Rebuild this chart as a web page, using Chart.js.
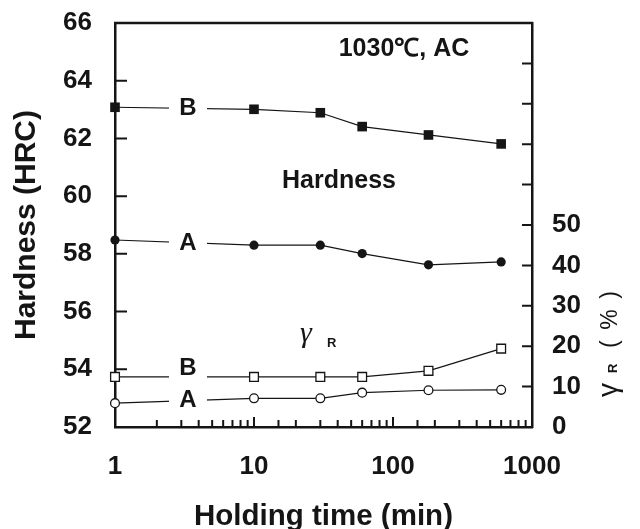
<!DOCTYPE html>
<html>
<head>
<meta charset="utf-8">
<script src="https://cdn.jsdelivr.net/npm/chart.js@4"></script>
<style>
  html, body { margin: 0; padding: 0; background: #fff; }
</style>
</head>
<body>
<canvas id="hardness-canvas" width="640" height="529"></canvas>
<script>
// valores
const holdingTime = [1, 10, 30, 60, 180, 600];
const hardnessA = [58.48, 58.30, 58.30, 58.01, 57.62, 57.72];
const hardnessB = [63.08, 63.01, 62.89, 62.41, 62.12, 61.81];
const retainedA = [5.9, 7.1, 7.1, 8.5, 9.1, 9.2];
const retainedB = [12.4, 12.4, 12.4, 12.4, 13.9, 19.4];
const timeTickLabels = [1, 10, 100, 1000];
const retainedTickMax = 50;

const ink = '#151515';
const fontFamily = "'Liberation Sans', Arial, sans-serif";

function points(values) {
    return holdingTime.map((t, i) => ({ x: t, y: values[i] }));
}

// etiquetas A / B sobre las lineas
const seriesLabels = [
    { dataset: 0, text: 'B', dy: 0 },
    { dataset: 1, text: 'A', dy: 1 },
    { dataset: 2, text: 'B', dy: -9 },
    { dataset: 3, text: 'A', dy: 0 }
];

function noOverflow(s) {
    s.paddingTop = 0;
    s.paddingBottom = 0;
    s.paddingLeft = 0;
    s.paddingRight = 0;
}

const insideTicks = {
    id: 'insideTicks',
    afterDraw(chart) {
        const { ctx, chartArea: a, scales: { x, y, y2 } } = chart;
        ctx.save();
        ctx.strokeStyle = ink;
        ctx.lineWidth = 2;
        ctx.beginPath();
        y.ticks.forEach(t => {
            const p = y.getPixelForValue(t.value);
            ctx.moveTo(a.left, p); ctx.lineTo(a.left + 12, p);
        });
        y2.ticks.forEach(t => {
            const p = y2.getPixelForValue(t.value);
            ctx.moveTo(a.right, p); ctx.lineTo(a.right - 10, p);
        });
        x.ticks.forEach(t => {
            const p = x.getPixelForValue(t.value);
            const lg = Math.log10(t.value);
            const len = Math.abs(lg - Math.round(lg)) < 1e-6 ? 10 : 7;
            ctx.moveTo(p, a.bottom); ctx.lineTo(p, a.bottom - len);
        });
        ctx.stroke();
        ctx.lineWidth = 2.5;
        ctx.beginPath();
        ctx.moveTo(a.left - 1, a.top); ctx.lineTo(a.right + 1, a.top);
        ctx.stroke();

        // titulo del eje derecho
        ctx.translate(617, 397);
        ctx.rotate(-Math.PI / 2);
        ctx.fillStyle = ink;
        ctx.textBaseline = 'alphabetic';
        ctx.textAlign = 'left';
        ctx.font = '28px ' + fontFamily;
        ctx.fillText('γ', 0, 0);
        ctx.font = 'bold 13px ' + fontFamily;
        ctx.fillText('R', 24, 0);
        ctx.font = '23px ' + fontFamily;
        ctx.fillText('(', 49, 0);
        ctx.textAlign = 'center';
        ctx.fillText('%', 77.5, 0);
        ctx.textAlign = 'right';
        ctx.fillText(')', 106, 0);
        ctx.restore();
    }
};

const lineLabels = {
    id: 'lineLabels',
    afterDatasetsDraw(chart) {
        const { ctx, scales: { x } } = chart;
        ctx.save();
        const px = x.getPixelForValue(3.35);
        seriesLabels.forEach(l => {
            const pts = chart.getDatasetMeta(l.dataset).data;
            const p0 = pts[0], p1 = pts[1];
            const py = p0.y + (p1.y - p0.y) * (px - p0.x) / (p1.x - p0.x);
            ctx.fillStyle = '#fff';
            ctx.fillRect(px - 19, py - 4, 38, 8);
            ctx.fillStyle = ink;
            ctx.font = 'bold 24px ' + fontFamily;
            ctx.textAlign = 'center';
            ctx.textBaseline = 'middle';
            ctx.fillText(l.text, px, py + l.dy);
        });

        ctx.font = 'bold 25px ' + fontFamily;
        ctx.fillText('1030℃, AC', 404, 49);
        ctx.fillText('Hardness', 339, 181);

        ctx.textAlign = 'left';
        ctx.textBaseline = 'alphabetic';
        ctx.font = 'italic 30px "Liberation Serif", serif';
        ctx.fillText('γ', 300, 342);
        ctx.font = 'bold 13px ' + fontFamily;
        ctx.fillText('R', 327, 347);
        ctx.restore();
    }
};

const ctx = document.getElementById('hardness-canvas').getContext('2d');

const chart = new Chart(ctx, {
    type: 'line',
    data: {
        datasets: [{
            label: 'Hardness B',
            data: points(hardnessB),
            yAxisID: 'y',
            borderColor: ink,
            borderWidth: 1.2,
            pointStyle: 'rect',
            pointRadius: 6.8,
            pointBackgroundColor: ink,
            pointBorderColor: ink,
            pointBorderWidth: 0
        }, {
            label: 'Hardness A',
            data: points(hardnessA),
            yAxisID: 'y',
            borderColor: ink,
            borderWidth: 1.2,
            pointStyle: 'circle',
            pointRadius: 4.6,
            pointBackgroundColor: ink,
            pointBorderColor: ink,
            pointBorderWidth: 0
        }, {
            label: 'γR B',
            data: points(retainedB),
            yAxisID: 'y2',
            borderColor: ink,
            borderWidth: 1.2,
            pointStyle: 'rect',
            pointRadius: 6.2,
            pointBackgroundColor: '#fff',
            pointBorderColor: ink,
            pointBorderWidth: 1.3
        }, {
            label: 'γR A',
            data: points(retainedA),
            yAxisID: 'y2',
            borderColor: ink,
            borderWidth: 1.2,
            pointStyle: 'circle',
            pointRadius: 4.4,
            pointBackgroundColor: '#fff',
            pointBorderColor: ink,
            pointBorderWidth: 1.3
        }]
    },
    options: {
        responsive: false,
        animation: false,
        clip: false,
        layout: { padding: { top: 23, left: 0, right: 0, bottom: 0 } },
        plugins: {
            legend: { display: false },
            tooltip: { enabled: false }
        },
        scales: {
            x: {
                type: 'logarithmic',
                position: 'bottom',
                min: 1,
                max: 1000,
                afterFit(s) { s.height = 102; noOverflow(s); },
                grid: { display: false, drawTicks: false },
                border: { display: true, width: 2.5, color: ink },
                ticks: {
                    autoSkip: false,
                    maxRotation: 0,
                    padding: 24,
                    color: ink,
                    font: { family: fontFamily, size: 26, weight: 'bold' },
                    callback: v => timeTickLabels.includes(Math.round(v)) && Math.abs(v - Math.round(v)) < 1e-6 ? String(Math.round(v)) : ''
                },
                title: {
                    display: true,
                    text: 'Holding time (min)',
                    color: ink,
                    padding: { top: 0, bottom: 0 },
                    font: { family: fontFamily, size: 29.5, weight: 'bold', lineHeight: 0.8 }
                }
            },
            y: {
                position: 'left',
                min: 52,
                max: 66,
                afterFit(s) { s.width = 115; noOverflow(s); },
                grid: { display: false, drawTicks: false },
                border: { display: true, width: 2.5, color: ink },
                ticks: {
                    stepSize: 2,
                    padding: 23,
                    color: ink,
                    font: { family: fontFamily, size: 26, weight: 'bold' }
                },
                title: {
                    display: true,
                    text: 'Hardness (HRC)',
                    color: ink,
                    padding: { top: 9, bottom: 0 },
                    font: { family: fontFamily, size: 30, weight: 'bold' }
                }
            },
            y2: {
                position: 'right',
                min: 0,
                max: 100,
                afterFit(s) { s.width = 108; noOverflow(s); },
                grid: { display: false, drawTicks: false },
                border: { display: true, width: 2.5, color: ink },
                ticks: {
                    stepSize: 10,
                    padding: 20,
                    color: ink,
                    font: { family: fontFamily, size: 26, weight: 'bold' },
                    callback: v => v <= retainedTickMax ? String(v) : ''
                }
            }
        }
    },
    plugins: [lineLabels, insideTicks]
});
</script>
</body>
</html>
